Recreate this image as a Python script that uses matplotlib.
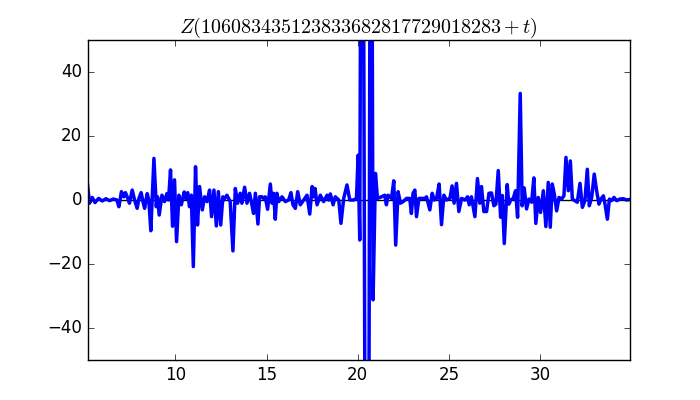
import matplotlib
matplotlib.use('Agg')
import matplotlib.pyplot as plt

plt.style.use('classic')

# values (t, Z)
t_vals = [
    5.19, 5.30, 5.45, 5.60, 5.80, 6.00, 6.20, 6.40, 6.60, 6.80,
    6.91, 7.05, 7.18, 7.27, 7.40, 7.49, 7.64, 7.77, 7.91, 8.01,
    8.13, 8.23, 8.32, 8.46, 8.55, 8.66, 8.83, 8.96, 9.03, 9.12,
    9.27, 9.41, 9.54, 9.63, 9.74, 9.85, 9.96, 10.07, 10.20, 10.33,
    10.49, 10.57, 10.68, 10.78, 10.88, 10.99, 11.11, 11.22, 11.33, 11.48,
    11.61, 11.74, 11.88, 11.99, 12.12, 12.25, 12.36, 12.49, 12.61,
    12.65, 12.83, 13.01, 13.16, 13.29, 13.42, 13.56, 13.65, 13.80, 13.93,
    14.07, 14.20, 14.29, 14.39, 14.53, 14.62, 14.75, 14.84, 14.93, 15.06,
    15.21, 15.30, 15.39, 15.48, 15.57, 15.67, 15.85, 16.03, 16.21, 16.34,
    16.45, 16.58, 16.71, 16.85, 17.04, 17.22, 17.37, 17.50, 17.59, 17.66,
    17.77, 17.95, 18.13, 18.32, 18.41, 18.50, 18.65, 18.77, 18.96, 19.08,
    19.23, 19.41, 19.56, 19.78, 19.93,
    20.02, 20.11, 20.24, 20.52, 20.72, 20.84, 20.97,
    21.08, 21.30, 21.48, 21.57, 21.66, 21.85, 21.975, 22.08, 22.21, 22.34,
    22.49, 22.67, 22.85, 22.94, 23.03, 23.13, 23.22, 23.35, 23.53, 23.68,
    23.77, 23.95, 24.08, 24.19, 24.32, 24.46, 24.59, 24.72, 24.86, 25.05,
    25.17, 25.28, 25.41, 25.54, 25.69, 25.87, 26.02, 26.11, 26.23, 26.42,
    26.56, 26.69, 26.78, 26.91, 27.06, 27.19, 27.33,
    27.46, 27.57, 27.70, 27.83, 27.92, 28.03, 28.19, 28.28, 28.39, 28.52,
    28.65, 28.76, 28.905, 29.01, 29.12, 29.25, 29.38, 29.53, 29.65, 29.76,
    29.89, 30.02, 30.17, 30.31, 30.44, 30.55, 30.66, 30.77, 30.90, 31.03,
    31.17, 31.30, 31.41, 31.54, 31.65, 31.76, 31.90, 32.03, 32.18, 32.31,
    32.45, 32.58, 32.69, 32.82, 32.96, 33.09, 33.22, 33.33, 33.46, 33.55,
    33.68, 33.79, 33.91, 34.04, 34.19, 34.37, 34.55, 34.74, 34.92,
]
z_vals = [
    5.0, -1.0, 0.8, -0.8, 0.5, -0.3, 0.4, -0.2, 0.3, 0.0,
    -2.1, 2.6, 1.0, 2.3, 0.5, -1.0, 3.1, 0.0, -2.6, 0.5,
    2.3, -0.5, -2.6, 2.0, 0.0, -9.6, 13.0, -2.1, 1.0, -4.7,
    1.5, -0.5, 2.0, 0.0, 9.4, -8.2, 6.3, -13.0, 1.5, -1.5,
    2.5, 0.5, 2.3, -2.1, 1.5, -20.8, 10.4, -7.8, 4.2, -3.1,
    1.0, -0.5, 3.1, -5.2, 3.1, -8.1, 2.6, -7.8, 1.0,
    0.0, 1.5, -0.5, -15.9, 3.6, -1.0, 2.1, -1.0, 4.0, -1.0,
    2.1, -1.5, -4.2, 2.1, -7.5, 1.0, 1.0, 0.5, 1.0, -2.9,
    5.0, -1.0, 2.1, -6.0, 2.1, -0.5, 1.0, -0.5, 0.0, 2.3,
    -1.5, -2.6, 2.6, -1.5, 0.0, 1.5, -4.4, 4.2, 1.0, 3.6,
    -1.5, 1.5, -0.5, 1.5, 0.0, 1.9, -1.5, 1.0, 0.0, -7.3,
    0.5, 4.7, 0.0, 0.0, 0.5,
    14.0, -12.5, 215.0, -300.0, 200.0, -31.2, 8.3,
    0.5, 1.0, 1.5, -1.5, 1.5, 0.5, 6.0, -14.1, 2.6, -1.0,
    -0.5, 0.5, 0.5, -4.2, 2.1, 3.1, -5.2, 0.5, 0.5, 0.5,
    1.0, -3.1, 2.1, 0.0, 0.5, 5.0, -7.7, 1.5, 0.0, 0.5,
    4.4, -1.0, 5.2, -3.6, 0.5, 0.0, 1.0, -1.5, 1.0, -5.2,
    6.7, -1.0, 4.2, -3.6, -3.6, 2.1, 2.2,
    -1.8, -1.3, 9.2, -5.4, 1.4, -13.6, 4.8, -1.3, 0.0, 0.5,
    2.9, -5.4, 33.3, -1.8, 3.8, -2.8, 0.3, -0.7, 6.9, -7.3,
    0.8, -3.9, 2.9, -8.3, 5.5, -8.5, 5.0, 1.9, -3.4, 0.8,
    0.3, 1.3, 13.3, 2.9, 12.2, 0.3, -0.2, -0.7, 5.2, -2.3,
    -0.2, 9.6, -1.8, 0.8, 8.1, 2.9, -1.3, 0.3, 1.3, -1.3,
    -6.0, 0.3, -0.2, 0.8, -0.2, 0.3, 0.4, 0.0, 0.2,
]

fig = plt.figure(figsize=(7, 4), facecolor='white')
ax = fig.add_subplot(111)
ax.axhline(0, color='k', lw=1)
ax.plot(t_vals, z_vals, 'b', lw=2.5)
ax.set_xlim(5.19, 34.92)
ax.set_ylim(-50, 50)
ax.set_xticks([10, 15, 20, 25, 30])
ax.set_yticks([-40, -20, 0, 20, 40])
ax.set_title(r'$Z(106083435123833682817729018283+t)$')

fig.savefig('out.png', dpi=100, facecolor='white')
